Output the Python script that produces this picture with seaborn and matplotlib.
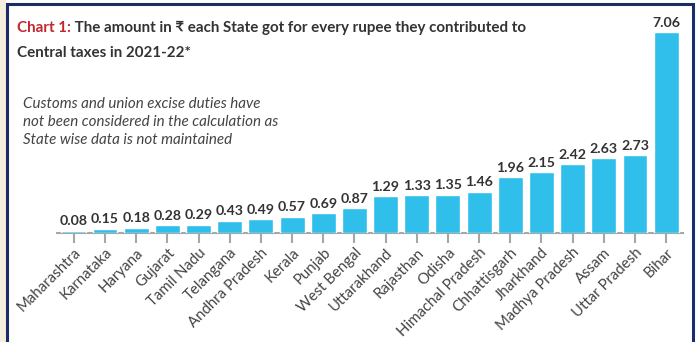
import matplotlib
matplotlib.use("Agg")
import matplotlib.pyplot as plt
import seaborn as sns
import pandas as pd
from matplotlib.patches import Rectangle

states = ["Maharashtra", "Karnataka", "Haryana", "Gujarat", "Tamil Nadu", "Telangana",
          "Andhra Pradesh", "Kerala", "Punjab", "West Bengal", "Uttarakhand", "Rajasthan",
          "Odisha", "Himachal Pradesh", "Chhattisgarh", "Jharkhand", "Madhya Pradesh",
          "Assam", "Uttar Pradesh", "Bihar"]
values = [0.08, 0.15, 0.18, 0.28, 0.29, 0.43, 0.49, 0.57, 0.69, 0.87, 1.29, 1.33,
          1.35, 1.46, 1.96, 2.15, 2.42, 2.63, 2.73, 7.06]

title_red = "Chart 1:"
title_rest_1 = " The amount in ₹ each State got for every rupee they contributed to"
title_rest_2 = "Central taxes in 2021-22*"
note = "Customs and union excise duties have\nnot been considered in the calculation as\nState wise data is not maintained"

df = pd.DataFrame({"state": states, "value": values})

sns.set_theme(style="white")
plt.rcParams["font.family"] = ["Lato", "DejaVu Sans"]

W, H = 696, 342
fig = plt.figure(figsize=(W / 100, H / 100), dpi=100)
fig.patch.set_facecolor("white")

# pale left strip and navy frame
fig.patches.append(Rectangle((0, 0), 6 / W, 1, transform=fig.transFigure,
                             facecolor="#f4efdf", edgecolor="none", zorder=0))
fig.patches.append(Rectangle((7 / W, -0.05), (693 - 7) / W, (H - 4) / H + 0.05,
                             transform=fig.transFigure, facecolor="none",
                             edgecolor="#1b2c6b", linewidth=2.2, zorder=5))

base_px, top_px = 233, 20
ax = fig.add_axes([57 / W, (H - base_px) / H, (683 - 57) / W, (base_px - top_px) / H])
scale = (base_px - 32.5) / 7.06
ymax = (base_px - top_px) / scale

sns.barplot(data=df, x="state", y="value", color="#2fbfea", saturation=1,
            width=0.8, ax=ax)
for p in ax.patches:
    p.set_zorder(4)
ax.set_xlim(-0.54, len(states) - 0.46)
ax.set_ylim(0, ymax)
ax.set_xlabel("")
ax.set_ylabel("")
ax.set_yticks([])
for s in ["top", "right", "left"]:
    ax.spines[s].set_visible(False)
ax.spines["bottom"].set_color("#a6a6a6")
ax.spines["bottom"].set_linewidth(1.5)
ax.spines["bottom"].set_zorder(2)
ax.tick_params(axis="x", bottom=True, length=7, width=1.5, color="#a6a6a6",
               pad=2, labelsize=10.8, labelcolor="#444444")
ax.set_xticks(range(len(states)))
ax.set_xticklabels(states, rotation=45, ha="right", rotation_mode="anchor")
ax.patch.set_alpha(0)

for i, v in enumerate(values):
    ax.text(i, v + 0.12, f"{v:.2f}", ha="center", va="bottom", fontsize=10.2,
            fontweight="bold", color="#333333", clip_on=False)

# title
t1 = fig.text(17 / W, 1 - 28 / H, title_red, color="#c1272d", fontsize=10.9,
              fontweight="bold", va="center", ha="left")
fig.canvas.draw()
bb = t1.get_window_extent()
fig.text(bb.x1 / W, 1 - 28 / H, title_rest_1, color="#333333", fontsize=10.9,
         fontweight="bold", va="center", ha="left")
fig.text(17 / W, 1 - 53 / H, title_rest_2, color="#333333", fontsize=10.9,
         fontweight="bold", va="center", ha="left")

fig.text(23 / W, 1 - 97 / H, note, color="#444444", fontsize=10.9, style="italic",
         va="top", ha="left", linespacing=1.35)

fig.savefig("out.png", dpi=100)
